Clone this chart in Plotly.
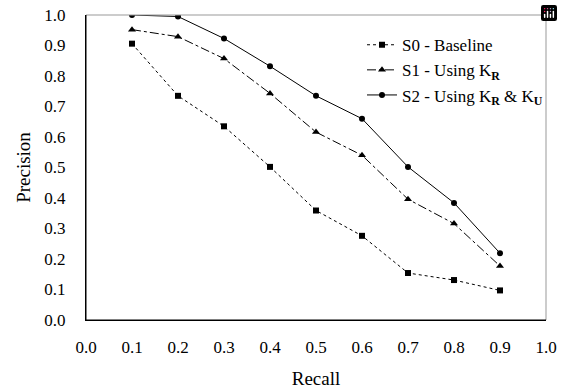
import plotly.graph_objects as go

recall = [0.1, 0.2, 0.3, 0.4, 0.5, 0.6, 0.7, 0.8, 0.9]
s0_baseline = [0.906, 0.735, 0.635, 0.502, 0.359, 0.276, 0.154, 0.131, 0.097]
s1_kr = [0.952, 0.929, 0.857, 0.743, 0.616, 0.540, 0.396, 0.316, 0.177]
s2_kr_ku = [1.0, 0.995, 0.923, 0.832, 0.735, 0.660, 0.502, 0.384, 0.219]
tick_vals = [0.0, 0.1, 0.2, 0.3, 0.4, 0.5, 0.6, 0.7, 0.8, 0.9, 1.0]
tick_text = [f"{v:.1f}" for v in tick_vals]

names = ["S0 - Baseline",
         "S1 - Using K<sub><b>R</b></sub>",
         "S2 - Using K<sub><b>R</b></sub> &amp; K<sub><b>U</b></sub>"]

SERIF = "Liberation Serif"

fig = go.Figure()
fig.add_trace(go.Scatter(x=recall, y=s0_baseline, name=names[0], mode="lines+markers",
                         line=dict(color="black", width=1, dash="dot"),
                         marker=dict(symbol="square", size=6, color="black")))
fig.add_trace(go.Scatter(x=recall, y=s1_kr, name=names[1], mode="lines+markers",
                         line=dict(color="black", width=1, dash="dashdot"),
                         marker=dict(symbol="triangle-up", size=7, color="black")))
fig.add_trace(go.Scatter(x=recall, y=s2_kr_ku, name=names[2], mode="lines+markers",
                         line=dict(color="black", width=1, dash="solid"),
                         marker=dict(symbol="circle", size=6, color="black")))

font = dict(family=SERIF, size=17, color="black")
axis_common = dict(range=[0, 1.0], tickvals=tick_vals, ticktext=tick_text,
                   showgrid=False, zeroline=False, showline=True, linecolor="black",
                   linewidth=1, ticks="outside", tickcolor="white", automargin=False,
                   tickfont=dict(family=SERIF, size=17, color="black"))
overlay_common = dict(range=[0, 1.0], tickvals=tick_vals, showticklabels=False,
                      showgrid=False, zeroline=False, showline=False, automargin=False,
                      ticks="inside", ticklen=5, tickcolor="black", tickwidth=1)
fig.update_layout(
    width=563, height=389,
    margin=dict(l=86, r=17, t=15, b=69, autoexpand=False),
    paper_bgcolor="white", plot_bgcolor="white",
    font=font,
    showlegend=True,
    modebar=dict(bgcolor="rgba(0,0,0,0)", color="rgba(0,0,0,0)",
                 activecolor="rgba(0,0,0,0)"),
    legend=dict(x=0.60, y=0.96, xanchor="left", yanchor="top",
                bgcolor="rgba(0,0,0,0)", font=dict(family=SERIF, size=17, color="black"),
                tracegroupgap=0),
    xaxis=dict(**axis_common, ticklen=12,
               title=dict(text="Recall", standoff=18, font=dict(family=SERIF, size=19))),
    yaxis=dict(**axis_common, ticklen=16,
               title=dict(text="Precision", standoff=8, font=dict(family=SERIF, size=19))),
    xaxis2=dict(**overlay_common, overlaying="x", side="bottom", anchor="y"),
    yaxis2=dict(**overlay_common, overlaying="y", side="left", anchor="x"),
    shapes=[
        dict(type="line", xref="paper", yref="paper", x0=0, x1=1, y0=1, y1=1,
             line=dict(color="#999999", width=1)),
        dict(type="line", xref="paper", yref="paper", x0=1, x1=1, y0=0, y1=1,
             line=dict(color="#999999", width=1)),
        dict(type="line", xref="paper", yref="paper", x0=0, x1=1, y0=0, y1=0,
             line=dict(color="black", width=1)),
        dict(type="line", xref="paper", yref="paper", x0=0, x1=0, y0=0, y1=1,
             line=dict(color="black", width=1)),
    ],
)
fig.write_html("out.html",
               post_script="document.body.style.margin='0';document.body.style.overflow='hidden';")
